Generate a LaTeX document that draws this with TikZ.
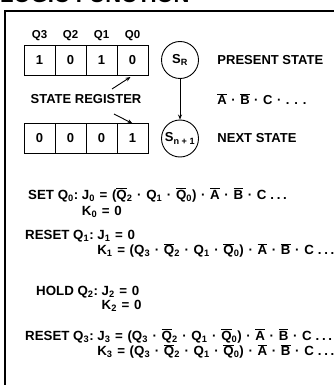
\documentclass[tikz,border=0pt]{standalone}
\usepackage{fontspec}
\setmainfont{Liberation Sans}
\usetikzlibrary{arrows.meta, positioning, calc}
\newcommand{\lsub}[1]{\textsubscript{#1}}
\newcommand{\ovl}[1]{\ensuremath{\overline{\mbox{#1}}}}
\newcommand{\dt}{\hspace{0.35em}·\hspace{0.35em}}
\newcommand{\eq}{\hspace{0.35em}=\hspace{0.35em}}
\newcommand{\etc}{\hspace{0.3em}.\hspace{0.2em}.\hspace{0.2em}.}

\begin{document}
\begin{tikzpicture}[x=1pt, y=-1pt, node distance=0pt, font=\fontsize{13}{14.5}\selectfont\bfseries]
    \tikzstyle{cell} = [rectangle, draw=black, line width=0.9pt, minimum width=31pt, minimum height=30pt, inner sep=0pt, outer sep=0pt]
    \tikzstyle{qlabel} = [inner sep=1pt, font=\fontsize{11.5}{13}\selectfont\bfseries]
    \tikzstyle{state} = [circle, draw=black, line width=0.9pt, minimum size=37pt, inner sep=0pt]
    \tikzstyle{arrow} = [line width=0.9pt, -{Stealth[length=5pt, width=4pt]}]
    \tikzstyle{eqn} = [anchor=base west, inner sep=0pt, align=left, font=\fontsize{13.3}{14.5}\selectfont\bfseries]

    \useasboundingbox (0,0) rectangle (334,385);
    \clip (0,0) rectangle (334,385);

    \node (title) [anchor=base west, inner sep=0pt, font=\fontsize{22}{24}\selectfont\bfseries] at (0,3) {LOGIC FUNCTION};
    \draw[line width=1.6pt] (340,11) -| (5,395);

    \node (t3) [cell] at (39.5,60) {1};
    \node (t2) [cell, right=of t3] {0};
    \node (t1) [cell, right=of t2] {1};
    \node (t0) [cell, right=of t1] {0};
    \node (q3) [qlabel, above=3pt of t3] {Q3};
    \node (q2) [qlabel, above=3pt of t2] {Q2};
    \node (q1) [qlabel, above=3pt of t1] {Q1};
    \node (q0) [qlabel, above=3pt of t0] {Q0};

    \node (b3) [cell] at (39.5,138.5) {0};
    \node (b2) [cell, right=of b3] {0};
    \node (b1) [cell, right=of b2] {0};
    \node (b0) [cell, right=of b1] {1};

    \node (reg) at ($(t3.south west)!0.5!(b0.north east)$) {STATE REGISTER};
    \coordinate (r1) at (112,89);
    \coordinate (r2) at (114,114);
    \draw[arrow] (r1) -- ([shift={(-2,2)}]t0.south);
    \draw[arrow] (r2) -- (b0.north);

    \node (sr) [state] at (180,60) {S\lsub{R}};
    \node (sn) [state] at (180,138.5) {S\lsub{n + 1}};
    \draw[arrow] (sr) -- (sn);

    \node (ps) [right=15pt of sr] {PRESENT STATE};
    \node (ns) [right=15pt of sn] {NEXT STATE};
    \node (abc) [anchor=west] at (ps.west |- reg) {\ovl{A}\dt\ovl{B}\dt C\dt . . .};

    \node (e0) [eqn] at (28,199) {\begin{tabular}[t]{@{}l@{\ }l@{}}
        SET Q\lsub{0}: & J\lsub{0}\eq(\ovl{Q}\lsub{2}\dt Q\lsub{1}\dt\ovl{Q}\lsub{0})\dt\ovl{A}\dt\ovl{B}\dt C\etc\\[1.5pt]
        & K\lsub{0}\eq 0
    \end{tabular}};
    \node (e1) [eqn] at (25,239) {\begin{tabular}[t]{@{}l@{\ }l@{}}
        RESET Q\lsub{1}: & J\lsub{1}\eq 0\\
        & K\lsub{1}\eq(Q\lsub{3}\dt\ovl{Q}\lsub{2}\dt Q\lsub{1}\dt\ovl{Q}\lsub{0})\dt\ovl{A}\dt\ovl{B}\dt C\etc
    \end{tabular}};
    \node (e2) [eqn] at (36,295) {\begin{tabular}[t]{@{}l@{\ }l@{}}
        HOLD Q\lsub{2}: & J\lsub{2}\eq 0\\
        & K\lsub{2}\eq 0
    \end{tabular}};
    \node (e3) [eqn] at (25,340) {\begin{tabular}[t]{@{}l@{\ }l@{}}
        RESET Q\lsub{3}: & J\lsub{3}\eq(Q\lsub{3}\dt\ovl{Q}\lsub{2}\dt Q\lsub{1}\dt\ovl{Q}\lsub{0})\dt\ovl{A}\dt\ovl{B}\dt C\etc\\
        & K\lsub{3}\eq(Q\lsub{3}\dt\ovl{Q}\lsub{2}\dt Q\lsub{1}\dt\ovl{Q}\lsub{0})\dt\ovl{A}\dt\ovl{B}\dt C\etc
    \end{tabular}};
\end{tikzpicture}
\end{document}
